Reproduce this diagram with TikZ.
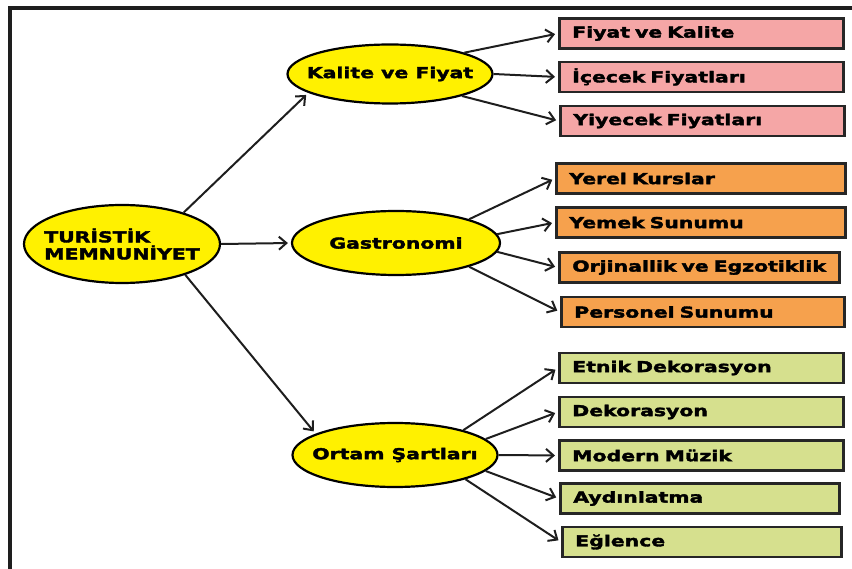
\documentclass[tikz,border=0pt]{standalone}
\usepackage{fontspec}
\usepackage{xcolor}
\usepackage{tikz}
\usetikzlibrary{shapes.geometric, arrows.meta, positioning}
\newfontfamily\diafont{DejaVu Sans}[FakeStretch=1.36, FakeBold=2.4]
\definecolor{topicyellow}{RGB}{255,241,0}
\definecolor{pinkbox}{RGB}{245,166,166}
\definecolor{orangebox}{RGB}{246,161,77}
\definecolor{greenbox}{RGB}{214,224,142}
\definecolor{inkline}{RGB}{30,30,30}
\tikzstyle{arrow} = [->, >={Straight Barb[length=7.5pt, width=13pt]}, line width=2pt, draw=inkline, shorten >=3pt]
\tikzstyle{topic} = [ellipse, draw=black, fill=topicyellow, line width=2.2pt, inner xsep=-12pt, inner ysep=0pt, font=\diafont\bfseries\fontsize{15}{17}\selectfont]
\tikzstyle{item} = [rectangle, draw=black!85, line width=2.6pt, anchor=west, minimum height=30pt, text width=258pt, inner xsep=13pt, align=left, font=\diafont\bfseries\fontsize{15}{17}\selectfont]

\begin{document}
\begin{tikzpicture}[x=1pt, y=-1pt]
  \useasboundingbox (0,0) rectangle (852,569);
  \draw[line width=3.5pt, draw=inkline] (10,569) -- (10,8) -- (852,8);

  % Root
  \node[topic, minimum width=196pt, minimum height=78pt, align=left] (root) at (122,244) {TURİSTİK\\MEMNUNİYET};

  % Topics
  \node[topic, minimum width=205pt, minimum height=59pt] (kalite) at (390,74) {Kalite ve Fiyat};
  \node[topic, minimum width=208pt, minimum height=64pt] (gastro) at (396,243) {Gastronomi};
  \node[topic, minimum width=205pt, minimum height=64pt] (ortam) at (395,455) {Ortam Şartları};

  \draw[arrow] (root.27) -- (kalite.193);
  \draw[arrow] (root.east) -- (gastro.west);
  \draw[arrow] (root.-26) -- (ortam.165);

  % Kalite ve Fiyat items
  \node[item, fill=pinkbox] (fk) at (558,33.5) {Fiyat ve Kalite};
  \node[item, fill=pinkbox] (icecek) at (558,77) {İçecek Fiyatları};
  \node[item, fill=pinkbox] (yiyecek) at (559,121) {Yiyecek Fiyatları};

  \draw[arrow] (kalite.16) -- (fk.west);
  \draw[arrow] (kalite.east) -- (icecek.west);
  \draw[arrow] (kalite.-17) -- (yiyecek.west);

  % Gastronomi items
  \node[item, fill=orangebox, text width=263pt] (yerel) at (555,178.5) {Yerel Kurslar};
  \node[item, fill=orangebox, text width=263pt] (yemek) at (555,222.5) {Yemek Sunumu};
  \node[item, fill=orangebox, text width=254pt] (orjinal) at (558,267.5) {Orjinallik ve Egzotiklik};
  \node[item, fill=orangebox, text width=257pt] (personel) at (560,312) {Personel Sunumu};

  \draw[arrow] (gastro.18) -- (yerel.west);
  \draw[arrow] (gastro.5) -- (yemek.west);
  \draw[arrow] (gastro.-5) -- (orjinal.west);
  \draw[arrow] (gastro.-18) -- (personel.west);

  % Ortam Sartlari items
  \node[item, fill=greenbox] (etnik) at (558,368) {Etnik Dekorasyon};
  \node[item, fill=greenbox] (dekor) at (558,412) {Dekorasyon};
  \node[item, fill=greenbox] (muzik) at (558,455.5) {Modern Müzik};
  \node[item, fill=greenbox, text width=253pt] (aydin) at (559,498.5) {Aydınlatma};
  \node[item, fill=greenbox, text width=253pt] (eglence) at (561,542) {Eğlence};

  \draw[arrow] (ortam.20) -- (etnik.west);
  \draw[arrow] (ortam.10) -- (dekor.west);
  \draw[arrow] (ortam.east) -- (muzik.west);
  \draw[arrow] (ortam.-10) -- (aydin.west);
  \draw[arrow] (ortam.-19) -- (eglence.west);

\end{tikzpicture}
\end{document}
